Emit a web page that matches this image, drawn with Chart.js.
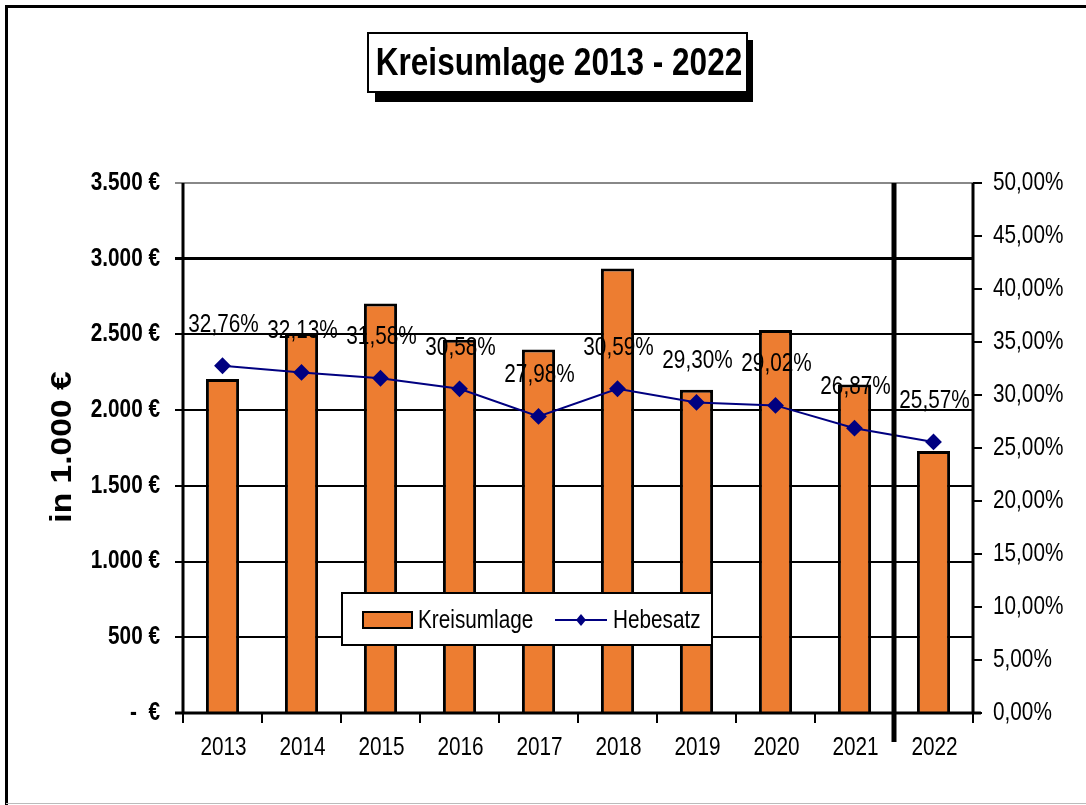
<!DOCTYPE html>
<html>
<head>
<meta charset="utf-8">
<script src="https://cdn.jsdelivr.net/npm/chart.js@4"></script>
<style>
html,body{margin:0;padding:0;background:#fff;}
canvas{display:block;}
</style>
</head>
<body>
<canvas id="c" width="1086" height="805"></canvas>
<script>
const years = ['2013','2014','2015','2016','2017','2018','2019','2020','2021','2022'];
const kreisumlage = [2205, 2510, 2705, 2465, 2400, 2935, 2135, 2530, 2170, 1730];
const hebesatz = [32.76, 32.13, 31.58, 30.58, 27.98, 30.59, 29.30, 29.02, 26.87, 25.57];
const titleText = 'Kreisumlage 2013 - 2022';
const yTitleText = 'in 1.000 €';
const legendLabels = ['Kreisumlage', 'Hebesatz'];

const FAMILY = "'Liberation Sans', Arial, sans-serif";
const SX = 0.83; // horizontal condensing to imitate Arial Narrow
const ORANGE = '#ED7D31';
const NAVY = '#000080';

const fmtEuro = v => v === 0 ? '-  €' : v.toLocaleString('de-DE') + ' €';
const fmtPct = v => v.toFixed(2).replace('.', ',') + '%';

function txt(ctx, s, x, y, font, align, sx) {
  ctx.save();
  ctx.translate(x, y);
  ctx.scale(sx === undefined ? SX : sx, 1);
  ctx.font = font;
  ctx.textAlign = align || 'center';
  ctx.textBaseline = 'middle';
  ctx.fillStyle = '#000';
  ctx.fillText(s, 0, 0);
  ctx.restore();
}

const decor = {
  id: 'decor',
  beforeDraw(chart) {
    const ctx = chart.ctx;
    ctx.save();
    ctx.fillStyle = '#fff';
    ctx.fillRect(0, 0, chart.width, chart.height);
    // outer frame
    ctx.strokeStyle = '#000';
    ctx.lineWidth = 3;
    ctx.beginPath();
    ctx.moveTo(6.5, 805);
    ctx.lineTo(6.5, 6.5);
    ctx.lineTo(1086, 6.5);
    ctx.stroke();
    ctx.strokeStyle = '#bbb';
    ctx.lineWidth = 1;
    ctx.beginPath();
    ctx.moveTo(6, 803.5);
    ctx.lineTo(1086, 803.5);
    ctx.stroke();
    // title box with shadow
    ctx.fillStyle = '#000';
    ctx.fillRect(375, 40, 378, 62);
    ctx.fillStyle = '#fff';
    ctx.fillRect(368, 33, 379, 59);
    ctx.strokeStyle = '#000';
    ctx.lineWidth = 2;
    ctx.strokeRect(368, 33, 379, 59);
    txt(ctx, titleText, 559, 65, "bold 38px " + FAMILY, 'center');
    // y axis title
    ctx.save();
    ctx.translate(63, 447);
    ctx.rotate(-Math.PI / 2);
    txt(ctx, yTitleText, 0, 0, "bold 30px " + FAMILY, 'center', 1.12);
    ctx.restore();
    ctx.restore();
  },
  afterDatasetsDraw(chart) {
    const ctx = chart.ctx;
    const xs = chart.scales.x, ys = chart.scales.y, y1 = chart.scales.y1;
    const ca = chart.chartArea;
    ctx.save();
    // axis frame lines
    ctx.strokeStyle = '#000';
    ctx.lineWidth = 3;
    ctx.beginPath();
    ctx.moveTo(ca.left, ca.top); ctx.lineTo(ca.left, ca.bottom);
    ctx.moveTo(ca.right, ca.top); ctx.lineTo(ca.right, ca.bottom);
    ctx.moveTo(ca.left - 8, ca.bottom); ctx.lineTo(ca.right + 8, ca.bottom);
    ctx.stroke();
    // separator between 2021 and 2022
    const sx = (xs.getPixelForValue(8) + xs.getPixelForValue(9)) / 2;
    ctx.lineWidth = 5;
    ctx.beginPath();
    ctx.moveTo(sx, ca.top);
    ctx.lineTo(sx, ca.bottom + 29);
    ctx.stroke();
    // tick labels (condensed), positioned by the library's scales
    ys.ticks.forEach(t => {
      txt(ctx, fmtEuro(t.value), 160, ys.getPixelForValue(t.value), "bold 25px " + FAMILY, 'right');
    });
    y1.ticks.forEach(t => {
      txt(ctx, fmtPct(t.value), 993, y1.getPixelForValue(t.value), "25px " + FAMILY, 'left');
    });
    years.forEach((lab, i) => {
      txt(ctx, lab, xs.getPixelForValue(i) + 1, 748, "25px " + FAMILY, 'center');
    });
    // data labels
    const meta = chart.getDatasetMeta(1);
    meta.data.forEach((pt, i) => {
      txt(ctx, fmtPct(hebesatz[i]), pt.x + 1, pt.y - 41, "25px " + FAMILY, 'center');
    });
    // legend
    ctx.fillStyle = '#fff';
    ctx.fillRect(342, 593, 370, 52);
    ctx.strokeStyle = '#000';
    ctx.lineWidth = 2;
    ctx.strokeRect(342, 593, 370, 52);
    ctx.fillStyle = ORANGE;
    ctx.fillRect(363, 612, 49, 16);
    ctx.lineWidth = 2;
    ctx.strokeRect(363, 612, 49, 16);
    txt(ctx, legendLabels[0], 418, 621, "25px " + FAMILY, 'left');
    ctx.strokeStyle = NAVY;
    ctx.lineWidth = 2;
    ctx.beginPath();
    ctx.moveTo(555, 620); ctx.lineTo(607, 620);
    ctx.stroke();
    ctx.fillStyle = NAVY;
    ctx.beginPath();
    ctx.moveTo(581, 614); ctx.lineTo(586, 620); ctx.lineTo(581, 626); ctx.lineTo(576, 620);
    ctx.closePath(); ctx.fill();
    txt(ctx, legendLabels[1], 613, 621, "25px " + FAMILY, 'left');
    ctx.restore();
  }
};

new Chart(document.getElementById('c'), {
  data: {
    labels: years,
    datasets: [
      {
        type: 'bar',
        label: legendLabels[0],
        data: kreisumlage,
        yAxisID: 'y',
        backgroundColor: ORANGE,
        borderColor: '#000',
        borderWidth: 3,
        borderSkipped: 'bottom',
        barPercentage: 0.42,
        categoryPercentage: 1,
        order: 2
      },
      {
        type: 'line',
        label: legendLabels[1],
        data: hebesatz,
        yAxisID: 'y1',
        borderColor: NAVY,
        backgroundColor: NAVY,
        borderWidth: 2,
        pointStyle: 'rectRot',
        pointRadius: 7,
        pointBackgroundColor: NAVY,
        pointBorderColor: NAVY,
        tension: 0,
        order: 1
      }
    ]
  },
  options: {
    responsive: false,
    animation: false,
    layout: { padding: { top: 183, left: 0, right: 0, bottom: 0 } },
    plugins: {
      legend: { display: false },
      title: { display: false },
      tooltip: { enabled: false }
    },
    scales: {
      x: {
        offset: true,
        grid: { display: true, drawOnChartArea: false, offset: true, color: '#000', lineWidth: 2, tickLength: 10 },
        border: { display: false },
        ticks: { display: false },
        afterFit(s) { s.height = 805 - 713; }
      },
      y: {
        position: 'left',
        min: 0, max: 3500,
        ticks: { display: false, stepSize: 500 },
        grid: {
          color: c => c.tick && c.tick.value === 3500 ? '#888' : '#000',
          lineWidth: c => c.tick && c.tick.value === 3000 ? 3 : 2,
          tickLength: 8
        },
        border: { display: false },
        afterFit(s) { s.width = 183; }
      },
      y1: {
        position: 'right',
        min: 0, max: 50,
        ticks: { display: false, stepSize: 5 },
        grid: { drawOnChartArea: false, color: '#000', lineWidth: 2, tickLength: 9 },
        border: { display: false },
        afterFit(s) { s.width = 1086 - 973; }
      }
    }
  },
  plugins: [decor]
});
</script>
</body>
</html>
